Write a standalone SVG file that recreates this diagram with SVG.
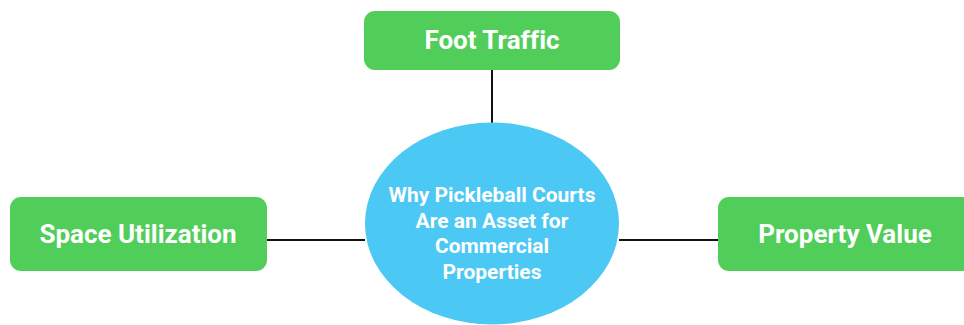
<svg xmlns="http://www.w3.org/2000/svg" width="964" height="325" viewBox="0 0 964 325">
<style>
.box{fill:#51CE5A}
.lbl{font-family:Roboto,"Liberation Sans",sans-serif;font-weight:bold;fill:#fff;text-anchor:middle;font-variant-ligatures:none}
.big{font-size:26px}
.mid{font-size:21px}
.con{stroke:#111;stroke-width:2;fill:none}
</style>
<rect width="964" height="325" fill="#fff"/>
<g id="connectors">
<line class="con" x1="492" y1="70" x2="492" y2="123"/>
<line class="con" x1="267" y1="240" x2="365" y2="240"/>
<line class="con" x1="619" y1="240" x2="718" y2="240"/>
</g>
<g id="center">
<ellipse cx="492" cy="223.5" rx="127" ry="101" fill="#4BC8F4"/>
<text class="lbl mid" x="492" y="202">Why Pickleball Courts</text>
<text class="lbl mid" x="492" y="228">Are an Asset for</text>
<text class="lbl mid" x="492" y="253">Commercial</text>
<text class="lbl mid" x="492" y="279">Properties</text>
</g>
<g id="foot-traffic">
<rect class="box" x="364" y="11" width="256" height="59" rx="11"/>
<text class="lbl big" x="492" y="49">Foot Traffic</text>
</g>
<g id="space-utilization">
<rect class="box" x="10" y="197" width="257" height="74" rx="11"/>
<text class="lbl big" x="138" y="243">Space Utilization</text>
</g>
<g id="property-value">
<rect class="box" x="718" y="197" width="257" height="74" rx="11"/>
<text class="lbl big" x="845" y="243">Property Value</text>
</g>
</svg>
